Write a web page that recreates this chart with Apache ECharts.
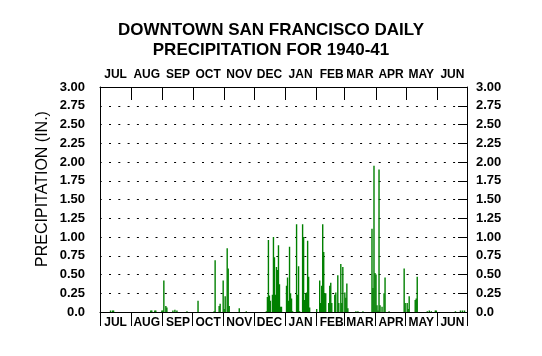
<!DOCTYPE html>
<html><head><meta charset="utf-8">
<script src="https://cdn.jsdelivr.net/npm/echarts@6/dist/echarts.min.js"></script>
<style>html,body{margin:0;padding:0;background:#fff}#c{width:542px;height:356px}</style>
</head><body><div id="c"></div>
<script>
var monthNames = ['JUL','AUG','SEP','OCT','NOV','DEC','JAN','FEB','MAR','APR','MAY','JUN'];
var yTicks = [0,0.25,0.5,0.75,1,1.25,1.5,1.75,2,2.25,2.5,2.75,3];
var rainDates = [
 '1940-07-11','1940-07-13','1940-07-14',
 '1940-08-20','1940-08-21','1940-08-24','1940-08-25','1940-08-31',
 '1940-09-01','1940-09-02','1940-09-04','1940-09-05','1940-09-11','1940-09-13','1940-09-15','1940-09-25',
 '1940-10-06','1940-10-22','1940-10-23','1940-10-27','1940-10-28','1940-10-31',
 '1940-11-01','1940-11-02','1940-11-04','1940-11-05','1940-11-06','1940-11-16','1940-11-23',
 '1940-12-13','1940-12-14','1940-12-15','1940-12-16','1940-12-17','1940-12-19','1940-12-20','1940-12-21','1940-12-22','1940-12-23','1940-12-24','1940-12-25','1940-12-26','1940-12-27','1940-12-28',
 '1941-01-02','1941-01-03','1941-01-04','1941-01-05','1941-01-06','1941-01-07','1941-01-08','1941-01-12','1941-01-13','1941-01-14','1941-01-15','1941-01-18','1941-01-19','1941-01-20','1941-01-21','1941-01-22','1941-01-23','1941-01-24','1941-01-25',
 '1941-02-01','1941-02-04','1941-02-05','1941-02-06','1941-02-07','1941-02-08','1941-02-09','1941-02-10','1941-02-13','1941-02-14','1941-02-15','1941-02-16','1941-02-19','1941-02-20','1941-02-22','1941-02-23','1941-02-25','1941-02-26','1941-02-27',
 '1941-03-01','1941-03-02','1941-03-03','1941-03-04','1941-03-12','1941-03-14','1941-03-19','1941-03-28','1941-03-29','1941-03-30','1941-03-31',
 '1941-04-01','1941-04-02','1941-04-03','1941-04-04','1941-04-05','1941-04-07','1941-04-09','1941-04-10','1941-04-14','1941-04-29','1941-04-30',
 '1941-05-02','1941-05-03','1941-05-04','1941-05-10','1941-05-11','1941-05-12','1941-05-22','1941-05-24','1941-05-26','1941-05-30','1941-05-31',
 '1941-06-19','1941-06-24','1941-06-26','1941-06-28'
];
var rainValues = [
 0.02,0.02,0.02,
 0.02,0.02,0.02,0.02,0.02,
 0.02,0.42,0.08,0.06,0.02,0.03,0.02,0.01,
 0.15,0.01,0.69,0.08,0.11,0.42,
 0.04,0.21,0.85,0.58,0.08,0.05,0.01,
 0.01,0.20,0.96,0.22,0.15,0.23,1.00,0.73,0.23,0.60,0.56,0.89,0.37,0.07,0.07,
 0.35,0.46,0.15,0.87,0.25,0.18,0.01,1.17,0.23,0.61,0.01,1.17,1.00,0.16,0.25,0.26,0.95,0.47,0.06,
 0.04,0.42,0.12,0.35,1.17,0.80,0.25,0.25,0.12,0.35,0.39,0.12,0.23,0.26,0.49,0.12,0.64,0.12,0.60,
 0.26,0.19,0.38,0.05,0.01,0.01,0.01,1.11,0.32,1.95,0.52,
 0.50,0.09,0.02,1.90,0.09,0.07,0.25,0.46,0.01,0.58,0.12,
 0.12,0.04,0.21,0.16,0.18,0.47,0.01,0.02,0.01,0.02,0.02,
 0.01,0.02,0.02,0.02
];

// season calendar (category axis)
var days = [];
var d0 = Date.UTC(1940, 6, 1);
for (var i = 0; i < 365; i++) {
  days.push(new Date(d0 + i * 86400000).toISOString().slice(0, 10));
}
var lookup = {};
rainDates.forEach(function (d, k) { lookup[d] = rainValues[k]; });
var seriesData = days.map(function (d) { return lookup[d] !== undefined ? lookup[d] : 0; });

function isMonthStart(idx, val) { return val.slice(8, 10) === '01'; }
function isMidMonth(idx, val) { return val.slice(8, 10) === '16'; }
function monthLabel(val) { return monthNames[(parseInt(val.slice(5, 7), 10) + 5) % 12]; }
function yFmt(v) { return v === 0 ? '0.0' : v.toFixed(2); }
var monthStartIdx = [];
days.forEach(function (d, k) { if (d.slice(8, 10) === '01') monthStartIdx.push([k, 3]); });

var FONT = 'Liberation Sans, Arial, sans-serif';
var yTitle = {
  type: 'text', x: 43, y: 189, rotation: Math.PI / 2,
  style: {text: 'PRECIPITATION (IN.)', fontFamily: FONT, fontSize: 16, fill: '#000',
    align: 'center', verticalAlign: 'middle', textAlign: 'center', textVerticalAlign: 'middle'}
};
var chart = echarts.init(document.getElementById('c'));
chart.setOption({
  animation: false,
  backgroundColor: '#fff',
  title: {
    text: 'DOWNTOWN SAN FRANCISCO DAILY\nPRECIPITATION FOR 1940-41',
    left: 'center', top: 15,
    textStyle: {fontFamily: FONT, fontWeight: 'bold', fontSize: 17, lineHeight: 20, color: '#000'}
  },
  grid: {left: 100, right: 75, top: 87, bottom: 44},
  xAxis: [{
    type: 'category', data: days, position: 'bottom', boundaryGap: true,
    axisLine: {show: true, onZero: false, lineStyle: {color: '#000', width: 1}},
    axisTick: {show: true, interval: isMonthStart, length: 14, lineStyle: {color: '#000'}},
    axisLabel: {interval: isMidMonth, formatter: monthLabel, margin: 5,
      fontFamily: FONT, fontWeight: 'bold', fontSize: 12, color: '#000'},
    splitLine: {show: false}
  }, {
    type: 'category', data: days.slice(), position: 'top', boundaryGap: true,
    axisLine: {show: true, onZero: false, lineStyle: {color: '#000', width: 1}},
    axisTick: {show: false},
    axisLabel: {interval: isMidMonth, formatter: monthLabel, margin: 6,
      fontFamily: FONT, fontWeight: 'bold', fontSize: 12, color: '#000'},
    splitLine: {show: false}
  }],
  yAxis: [{
    type: 'value', min: 0, max: 3, interval: 0.25, position: 'left',
    axisLine: {show: true, onZero: false, lineStyle: {color: '#000'}},
    axisTick: {show: false},
    axisLabel: {margin: 15, fontFamily: FONT, fontWeight: 'bold', fontSize: 13, color: '#000', formatter: yFmt},
    splitLine: {show: true, lineStyle: {color: '#000', width: 1, type: [2, 7.3], dashOffset: -9}}
  }, {
    type: 'value', min: 0, max: 3, interval: 0.25, position: 'right',
    axisLine: {show: true, onZero: false, lineStyle: {color: '#000'}},
    axisTick: {show: true, inside: true, length: 9, lineStyle: {color: '#000'}},
    axisLabel: {margin: 9, fontFamily: FONT, fontWeight: 'bold', fontSize: 13, color: '#000', formatter: yFmt},
    splitLine: {show: false}
  }],
  series: [{
    type: 'bar', data: seriesData,
    barWidth: 1.4, barGap: '-100%',
    itemStyle: {color: '#008000'}
  }]
});

// month-boundary tick marks hanging from the top frame, positioned via the chart's own scales
var tickEls = [yTitle];
monthStartIdx.forEach(function (m) {
  var c0 = chart.convertToPixel({xAxisIndex: 0, yAxisIndex: 0}, [m[0], m[1]]);
  var c1 = chart.convertToPixel({xAxisIndex: 0, yAxisIndex: 0}, [m[0] + 1, m[1]]);
  if (!c0 || !c1) return;
  var bw = c1[0] - c0[0];
  var x = Math.round(c0[0] - bw / 2) + 0.5;
  tickEls.push({type: 'line', z: 100, silent: true,
    shape: {x1: x, y1: c0[1], x2: x, y2: c0[1] + 13},
    style: {stroke: '#000', lineWidth: 1}});
});
chart.setOption({graphic: {elements: tickEls}});
</script></body></html>
